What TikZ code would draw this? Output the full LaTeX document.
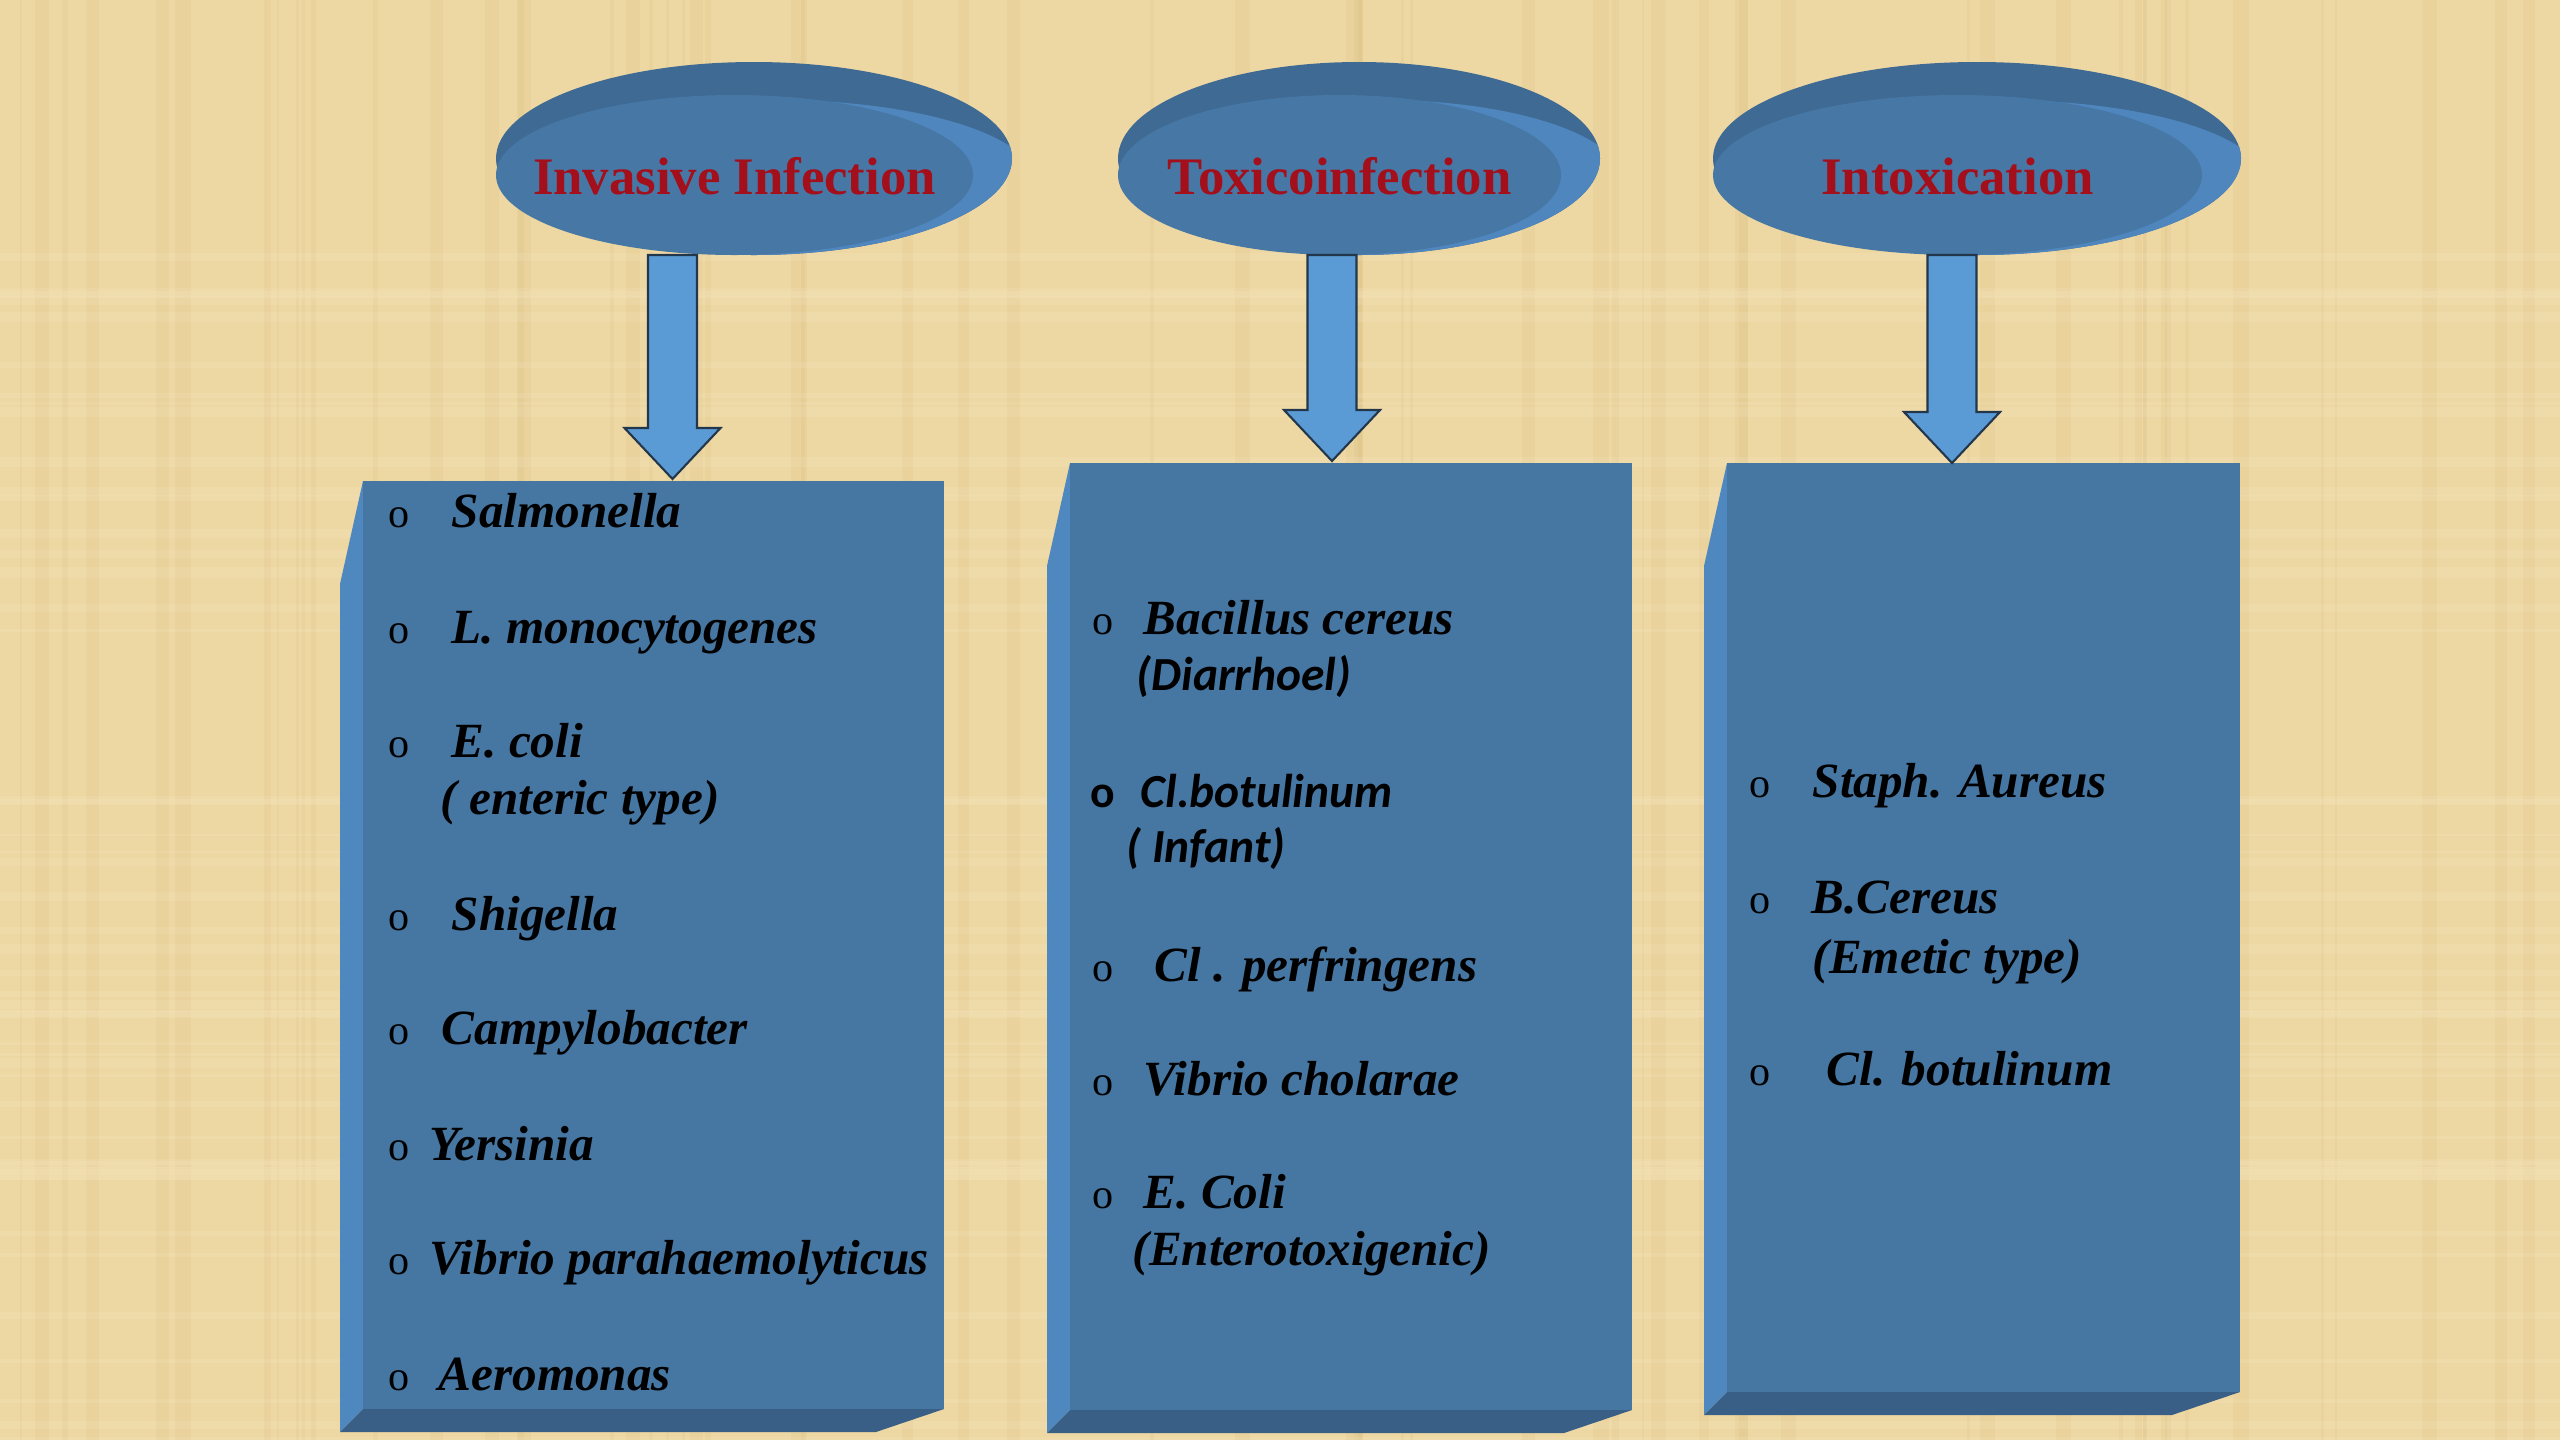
\documentclass[tikz,border=0pt]{standalone}
\usepackage{fontspec}
\setmainfont{Liberation Serif}
\newfontfamily\calibfont{Carlito}
\usetikzlibrary{calc}

\definecolor{paper}{HTML}{EDD7A3}
\definecolor{fibre}{HTML}{C9A664}
\definecolor{paperlight}{HTML}{F7E9C3}
\definecolor{rimdark}{HTML}{3E6A94}
\definecolor{rimlight}{HTML}{4E86BD}
\definecolor{discface}{HTML}{4677A5}
\definecolor{boxface}{HTML}{4676A2}
\definecolor{bevelL}{HTML}{4F87BF}
\definecolor{bevelB}{HTML}{395F86}
\definecolor{arrowfill}{HTML}{5B9BD5}
\definecolor{arrowline}{HTML}{22364C}
\definecolor{headred}{HTML}{A3101B}

\tikzset{
  head/.style={font=\fontsize{15}{18}\selectfont\bfseries, text=headred, inner sep=0},
  item/.style={anchor=base west, inner sep=0, font=\fontsize{14}{17}\selectfont\bfseries\itshape},
  sansitem/.style={anchor=base west, inner sep=0, font=\calibfont\fontsize{13.5}{16}\selectfont\bfseries\itshape},
  bul/.style={anchor=base, inner sep=0, font=\fontsize{12}{14}\selectfont},
  barrow/.style={fill=arrowfill, draw=arrowline, line width=0.6pt, line join=miter},
}

% disc: centre x, x radius, name, label
\newcommand{\disc}[4]{%
  \fill[rimdark] (#1,-1.585) ellipse [x radius=#2, y radius=0.965];
  \begin{scope}
    \clip (#1,-1.585) ellipse [x radius=#2, y radius=0.965];
    \fill[rimlight] (#1+0.22,-1.80) ellipse [x radius=#2, y radius=0.80];
  \end{scope}
  \fill[discface] (#1-0.195,-1.75) ellipse [x radius=#2-0.195, y radius=0.80];
  \node[head] (#3) at (#1-0.195,-1.76) {#4};
}
% slab: name, left, top, right, bottom of the front face
\newcommand{\slab}[5]{%
  \fill[bevelL] (#2,#3) -- (#2-0.23,#3-1.03) -- (#2-0.23,#5-0.23) -- (#2,#5) -- cycle;
  \fill[bevelB] (#2-0.23,#5-0.23) -- (#2,#5) -- (#4,#5) -- (#4-0.68,#5-0.23) -- cycle;
  \fill[boxface] (#2,#3) rectangle (#4,#5);
  \coordinate (#1) at (#2,#3);
}
\newcommand{\blockarrow}[2]{%
  \draw[barrow] ($(#1)+(-0.245,0)$) -- ($(#2)+(-0.245,0.51)$) -- ($(#2)+(-0.48,0.51)$) -- (#2)
    -- ($(#2)+(0.48,0.51)$) -- ($(#2)+(0.245,0.51)$) -- ($(#1)+(0.245,0)$) -- cycle;
}

\begin{document}
\begin{tikzpicture}
\useasboundingbox (0,0) rectangle (25.6,-14.4);
\fill[paper] (0,0) rectangle (25.6,-14.4);

% papyrus fibres
\pgfmathsetseed{17}
\foreach \i in {1,...,60}{
  \pgfmathsetmacro\px{rnd*25.6}
  \pgfmathsetmacro\pw{0.5+rnd*4}
  \draw[fibre, opacity=0.1, line width=\pw pt] (\px,0) -- (\px,-14.4);
}
\foreach \i in {1,...,50}{
  \pgfmathsetmacro\py{-rnd*14.4}
  \pgfmathsetmacro\pw{0.5+rnd*2.5}
  \draw[paperlight, opacity=0.2, line width=\pw pt] (0,\py) -- (25.6,\py);
}

% boxes
\slab{invbox}{3.63}{-4.81}{9.44}{-14.09}
\slab{toxbox}{10.70}{-4.63}{16.32}{-14.10}
\slab{intbox}{17.27}{-4.63}{22.40}{-13.92}

% headers
\disc{7.54}{2.58}{inv}{Invasive Infection}
\disc{13.59}{2.41}{tox}{Toxicoinfection}
\disc{19.77}{2.64}{int}{Intoxication}

% arrows
\coordinate (top1) at (6.725,-2.55);  \coordinate (tip1) at (6.725,-4.79);
\coordinate (top2) at (13.32,-2.55);  \coordinate (tip2) at (13.32,-4.61);
\coordinate (top3) at (19.52,-2.55);  \coordinate (tip3) at (19.52,-4.63);
\blockarrow{top1}{tip1}
\blockarrow{top2}{tip2}
\blockarrow{top3}{tip3}

% invasive infection
\foreach \x/\y/\t [count=\i] in {4.51/5.27/Salmonella, 4.51/6.43/L. monocytogenes,
    4.51/7.57/E. coli, 4.51/9.30/Shigella, 4.41/10.44/Campylobacter,
    4.29/11.60/Yersinia, 4.29/12.74/Vibrio parahaemolyticus, 4.38/13.90/Aeromonas}{
  \node[bul] (ib\i) at (3.99,-\y) {o};
  \node[item] (inv\i) at (\x,-\y) {\t};
}
\node[item] (inv3b) at (4.40,-8.14) {( enteric type)};

% toxicoinfection
\foreach \x/\y/\t [count=\i] in {11.43/6.34/Bacillus cereus, 11.54/9.81/Cl . perfringens,
    11.43/10.95/Vibrio cholarae, 11.43/12.08/E. Coli}{
  \node[bul] (tb\i) at (11.03,-\y) {o};
  \node[item] (tox\i) at (\x,-\y) {\t};
}
\node[sansitem] (tox1b) at (11.36,-6.90) {(Diarrhoel)};
\node[bul, font=\calibfont\fontsize{13}{15}\selectfont\bfseries] (tb5) at (11.03,-8.07) {o};
\node[sansitem] (tox5) at (11.40,-8.07) {Cl.botulinum};
\node[sansitem] (tox5b) at (11.26,-8.62) {( Infant)};
\node[item] (tox4b) at (11.32,-12.65) {(Enterotoxigenic)};

% intoxication
\foreach \x/\y/\t [count=\i] in {18.12/7.97/Staph. Aureus, 18.11/9.13/B.Cereus,
    18.26/10.85/Cl. botulinum}{
  \node[bul] (ub\i) at (17.60,-\y) {o};
  \node[item] (int\i) at (\x,-\y) {\t};
}
\node[item] (int2b) at (18.12,-9.73) {(Emetic type)};
\end{tikzpicture}
\end{document}
